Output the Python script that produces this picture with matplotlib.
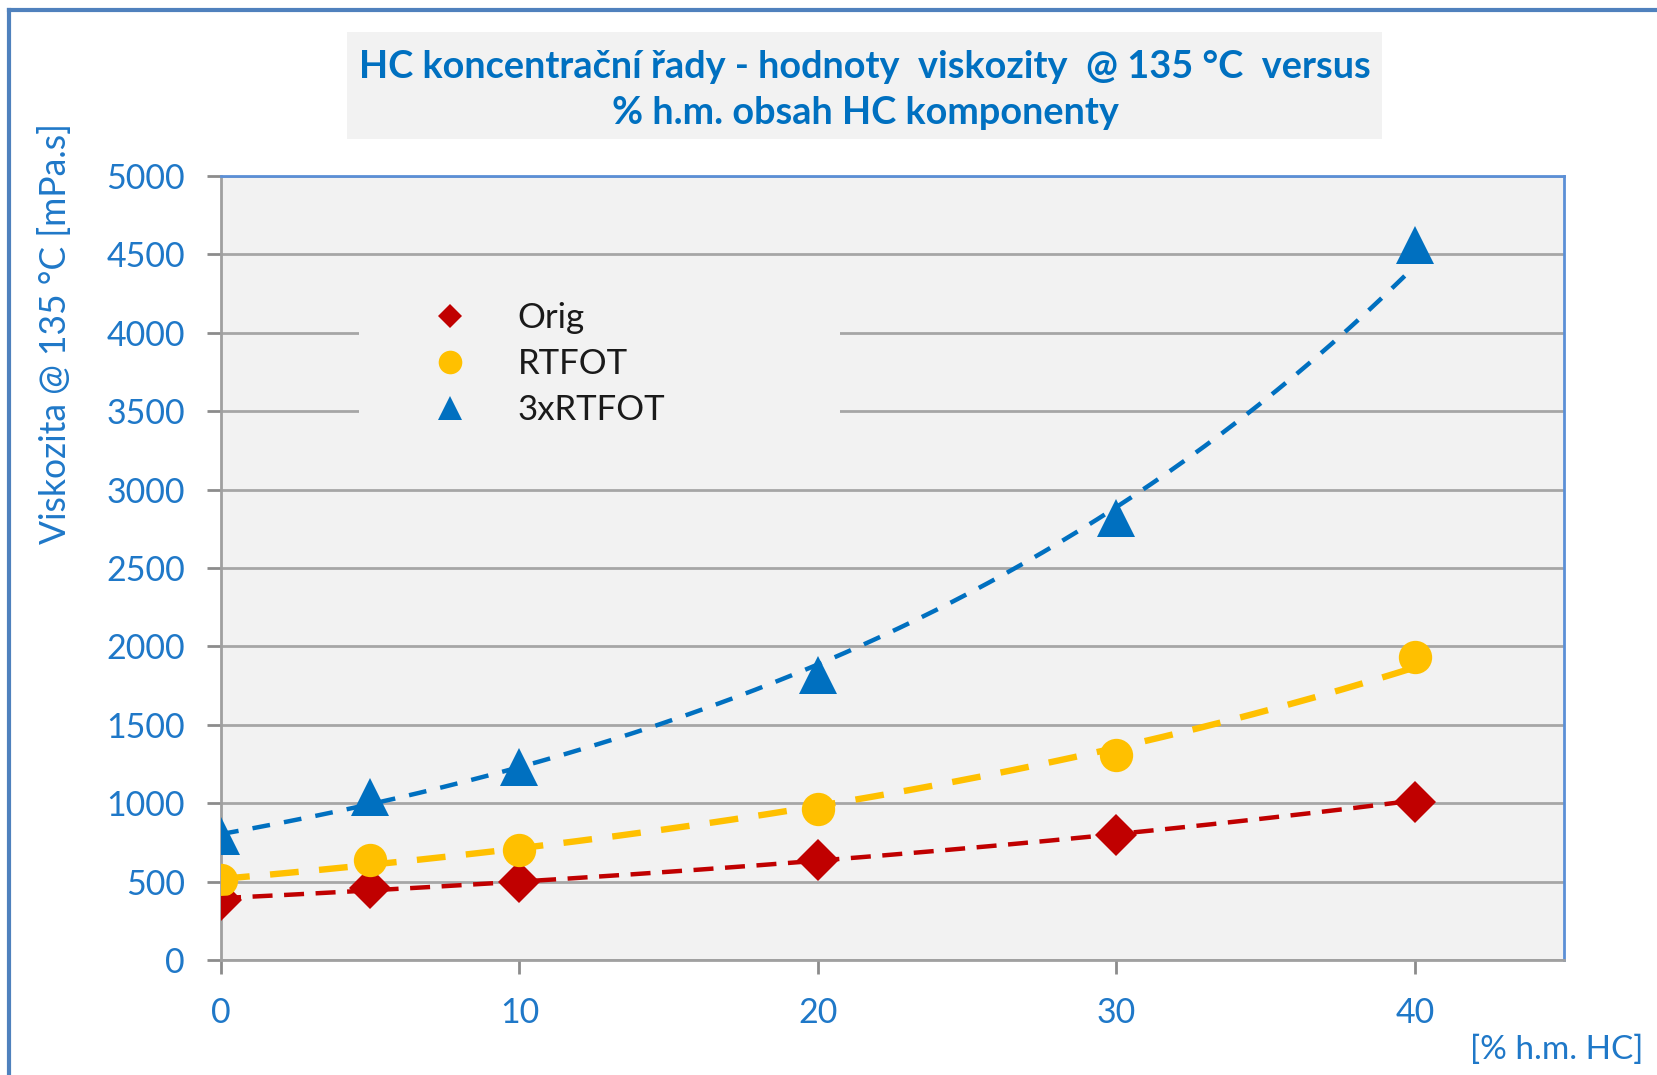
"""
HC koncentracni rady - viskozita @ 135 C vs. obsah HC komponenty
Excel-like scatter with exponential trendlines
"""
import numpy as np
import matplotlib
matplotlib.use('Agg')
import matplotlib.pyplot as plt
from matplotlib.lines import Line2D
from matplotlib.patches import Rectangle

plt.rcParams['font.family'] = ['Lato', 'DejaVu Sans']

hc_content = [0, 5, 10, 20, 30, 40]
orig = [380, 460, 500, 640, 800, 1010]
rtfot = [510, 640, 700, 960, 1310, 1930]
rtfot3 = [790, 1040, 1230, 1820, 2820, 4560]

labels = ['Orig', 'RTFOT', '3xRTFOT']
x_ticks = [0, 10, 20, 30, 40]
y_ticks = [0, 500, 1000, 1500, 2000, 2500, 3000, 3500, 4000, 4500, 5000]

BLUE_TXT = '#1f78c8'
TITLE_C = '#0070c0'
BG = '#f2f2f2'


def exp_trend(x, y):
    # same as excel exponential trendline: fit ln(y) linear in x
    b, a = np.polyfit(x, np.log(y), 1)
    xs = np.linspace(min(x), max(x), 200)
    return xs, np.exp(a + b * xs)


fig = plt.figure(figsize=(16.57, 10.75), dpi=100)
ax = fig.add_axes([0.1334, 0.1070, 0.8105, 0.7293])
ax.set_facecolor(BG)

series = [
    (orig, 'D', 21.5, '#c00000', '#c00000', 3.2, (4.5, 2.6)),
    (rtfot, 'o', 24, '#ffc000', '#ffc000', 4.6, (4.5, 3.2)),
    (rtfot3, '^', 27, '#0070c0', '#0070c0', 3.2, (4.0, 3.2)),
]
for vals, mk, ms, mc, lc, lw, dash in series:
    ax.plot(hc_content, vals, ls='none', marker=mk, markersize=ms,
            color=mc, markeredgewidth=0, zorder=3)
    xs, ys = exp_trend(hc_content, vals)
    ax.plot(xs, ys, color=lc, lw=lw, dashes=dash, zorder=4)

ax.set_xlim(0, 45)
ax.set_ylim(0, 5000)
ax.set_xticks(x_ticks)
ax.set_yticks(y_ticks)
ax.tick_params(axis='both', colors='#8c8c8c', labelcolor=BLUE_TXT,
               labelsize=24.5, width=2, length=10, direction='out')
ax.tick_params(axis='y', pad=16)
ax.tick_params(axis='x', pad=17)
ax.grid(axis='y', color='#a6a6a6', lw=2)
ax.set_axisbelow(True)
for s in ['left', 'bottom']:
    ax.spines[s].set_color('#a0a0a0')
    ax.spines[s].set_linewidth(2)
for s in ['top', 'right']:
    ax.spines[s].set_color('#5b8fd6')
    ax.spines[s].set_linewidth(2)

# legend background box hides the gridlines
ax.add_patch(Rectangle((0.2167, 0.5972), 0.2903, 0.133, transform=fig.transFigure,
                       facecolor=BG, edgecolor='none', zorder=1))
handles = [
    Line2D([], [], ls='none', marker='D', markersize=12, color='#c00000', markeredgewidth=0),
    Line2D([], [], ls='none', marker='o', markersize=17, color='#ffc000', markeredgewidth=0),
    Line2D([], [], ls='none', marker='^', markersize=17, color='#0070c0', markeredgewidth=0),
]
leg = ax.legend(handles, labels, loc='upper left', bbox_to_anchor=(0.2613, 0.719),
                bbox_transform=fig.transFigure, frameon=False, borderpad=0,
                borderaxespad=0, handlelength=1.0, handletextpad=1.44,
                labelspacing=0.4, fontsize=25)
for t in leg.get_texts():
    t.set_color('#1a1a1a')
leg.set_zorder(6)

# title box
fig.patches.append(Rectangle((0.2094, 0.8707), 0.6246, 0.0995, transform=fig.transFigure,
                             facecolor=BG, edgecolor='none', zorder=0))
fig.text(0.522, 0.916, 'HC koncentrační řady - hodnoty  viskozity  @ 135 °C  versus\n'
         '% h.m. obsah HC komponenty', ha='center', va='center', fontsize=27.3,
         fontweight='bold', color=TITLE_C, linespacing=1.44)

fig.text(0.033, 0.690, 'Viskozita @ 135 °C [mPa.s]', rotation=90, ha='center',
         va='center', fontsize=25.6, color=BLUE_TXT)
fig.text(0.992, 0.023, '[% h.m. HC]', ha='right', va='center', fontsize=24,
         color=BLUE_TXT)

# outer chart border (left and top visible)
fig.lines.append(Line2D([0.0057, 0.0057], [0, 0.991], transform=fig.transFigure,
                        color='#4f81bd', lw=3))
fig.lines.append(Line2D([0.0057, 1], [0.991, 0.991], transform=fig.transFigure,
                        color='#4f81bd', lw=3))

fig.savefig('out.png', dpi=100)
